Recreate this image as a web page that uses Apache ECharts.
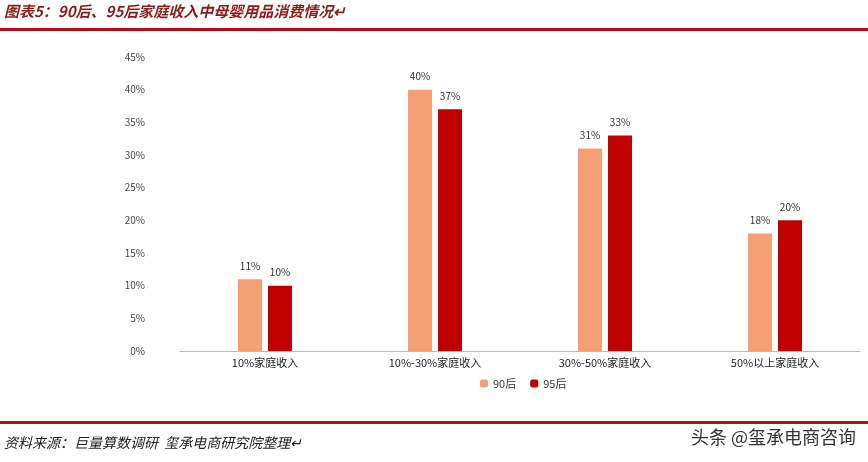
<!DOCTYPE html>
<html><head><meta charset="utf-8">
<script src="https://cdn.jsdelivr.net/npm/echarts@6/dist/echarts.min.js"></script>
<style>html,body{margin:0;padding:0;background:#fff}#main{width:868px;height:462px}</style>
</head><body><div id="main"></div>
<script>
var categories = ['10%家庭收入', '10%-30%家庭收入', '30%-50%家庭收入', '50%以上家庭收入'];
var s90 = [11, 40, 31, 18];
var s95 = [10, 37, 33, 20];
var myChart = echarts.init(document.getElementById('main'));
var lbl = {show: true, position: 'top', formatter: '{c}%', fontSize: 10, color: '#333', distance: 8};
var option = {
    animation: false,
    textStyle: {fontFamily: 'Noto Sans CJK SC'},
    graphic: [
        {type: 'text', left: 4, top: 4, style: {text: '图表5：90后、95后家庭收入中母婴用品消费情况↵', font: 'italic bold 15px "Noto Sans CJK SC"', fill: '#8a1c1c'}},
        {type: 'rect', shape: {x: 0, y: 28, width: 868, height: 3}, style: {fill: '#b01010'}},
        {type: 'rect', shape: {x: 0, y: 421, width: 868, height: 3}, style: {fill: '#b01010'}},
        {type: 'text', left: 4, top: 436, style: {text: '资料来源：巨量算数调研  玺承电商研究院整理↵', font: 'italic 14px "Noto Sans CJK SC"', fill: '#222'}},
        {type: 'text', right: 12, top: 428, style: {text: '头条 @玺承电商咨询', font: '18px "Noto Sans CJK SC"', fill: '#333'}}
    ],
    legend: {
        data: ['90后', '95后'], bottom: 68, left: 475, itemWidth: 8, itemHeight: 8, itemGap: 14,
        textStyle: {fontSize: 11, color: '#333'}
    },
    grid: {left: 180, right: 8, top: 57, bottom: 111},
    xAxis: {
        type: 'category', data: categories,
        axisLine: {lineStyle: {color: '#bbb'}}, axisTick: {show: false},
        axisLabel: {color: '#222', fontSize: 11, margin: 6}
    },
    yAxis: {
        type: 'value', min: 0, max: 45, interval: 5,
        axisLabel: {formatter: '{value}%', color: '#444', fontSize: 10, margin: 35},
        splitLine: {show: false}, axisLine: {show: false}
    },
    series: [
        {name: '90后', type: 'bar', data: s90, barWidth: 24, barGap: '25%', itemStyle: {color: '#F4A074'}, label: lbl},
        {name: '95后', type: 'bar', data: s95, barWidth: 24, itemStyle: {color: '#C00000'}, label: lbl}
    ]
};
myChart.setOption(option);
</script></body></html>
